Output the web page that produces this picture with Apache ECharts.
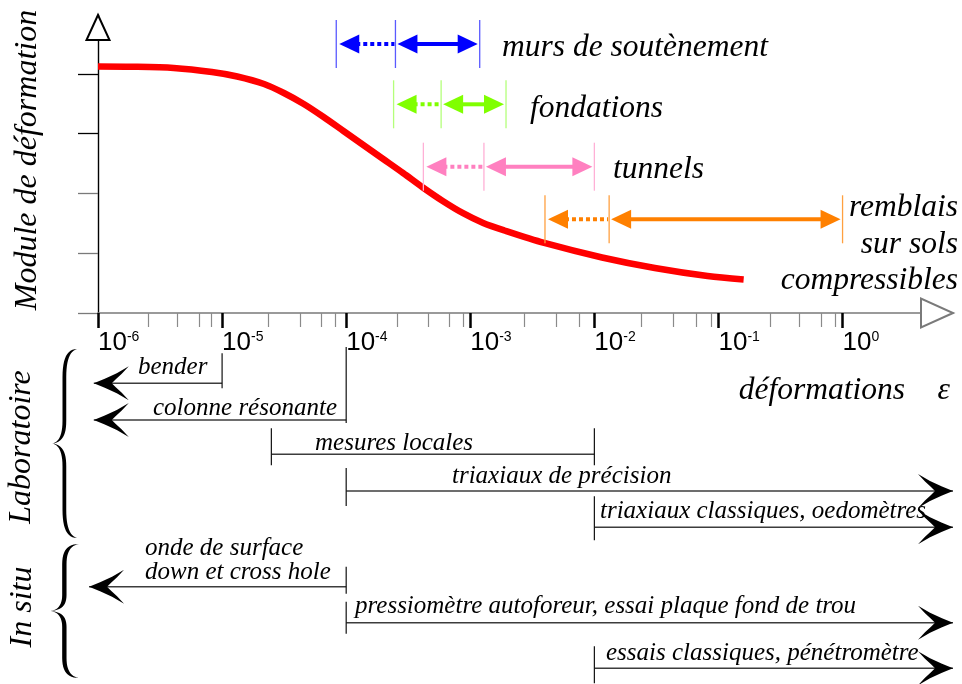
<!DOCTYPE html>
<html><head><meta charset="utf-8">
<script src="https://cdn.jsdelivr.net/npm/echarts@6/dist/echarts.min.js"></script>
<style>html,body{margin:0;padding:0;background:#fff}#c{width:962px;height:684px}</style>
</head><body><div id="c"></div>
<script>
// ---------------- DATA (x values are log10 of the strain ε) ----------------
const decadeTicks = [-6, -5, -4, -3, -2, -1, 0];
const minorTicks = [-5.592, -5.358, -5.187, -5.085, -4.627, -4.374, -4.20, -4.088,
  -3.59, -3.342, -3.168, -3.056, -2.563, -2.311, -2.119, -1.623, -1.368, -1.18, -1.058,
  -0.586, -0.347, -0.171, -0.061];
const moduleTicksDark = [3, 4];
const moduleTicksLight = [0, 1, 2];

// modulus curve
const curveX = [-6.0, -5.728, -5.390, -5.082, -4.878, -4.662, -4.502, -4.342, -4.182, -4.022,
  -3.862, -3.702, -3.542, -3.382, -3.222, -3.062, -2.896, -2.726, -2.404, -1.938, -1.513, -1.088, -0.797];
const curveY = [4.126, 4.122, 4.100, 4.033, 3.958, 3.833, 3.682, 3.498, 3.280, 3.046,
  2.811, 2.577, 2.343, 2.100, 1.874, 1.674, 1.506, 1.381, 1.172, 0.929, 0.753, 0.619, 0.561];

// ouvrages (strain ranges)
const workNames = ['murs de soutènement', 'fondations', 'tunnels', 'remblais sur sols compressibles'];
const workFrom = [-4.08, -3.618, -3.378, -2.398];
const workMid = [-3.603, -3.235, -2.89, -1.881];
const workTo = [-2.924, -2.712, -2.0, 0.0];

// essais (measuring ranges)
const testNames = ['bender', 'colonne résonante', 'mesures locales', 'triaxiaux de précision',
  'triaxiaux classiques, oedomètres', 'onde de surface / down et cross hole',
  'pressiomètre autoforeur, essai plaque fond de trou', 'essais classiques, pénétromètre'];
const testFrom = [-6.034, -6.034, -4.603, -4.0, -2.0, -6.072, -4.0, -2.0];
const testTo = [-5.0, -4.0, -2.0, 0.89, 0.89, -4.0, 0.89, 0.89];
const testFromEnd = ['arrow', 'arrow', 'bar', 'bar', 'bar', 'arrow', 'bar', 'bar'];
const testToEnd = ['bar', 'bar', 'bar', 'arrow', 'arrow', 'bar', 'arrow', 'arrow'];

// ---------------- LAYOUT / STYLE ----------------
const workRowY = [44, 104.3, 166.7, 219.3];
const workColors = ['#0000ff', '#80ff00', '#ff80c0', '#ff8000'];
const workTickColors = ['#5a5aff', '#b4ff7a', '#ffb0d6', '#ffa040'];
const testRowY = [383.3, 420, 454.3, 491, 527.3, 586.7, 622.7, 668.3];
const testTickUp = [30, 73, 26, 23, 31, 20, 21, 22];
const testTickDown = [5, 3, 11, 15, 13, 7, 11, 15];

const serifIt = { fontStyle: 'italic', fontFamily: 'Liberation Serif' };

function arrowHead(tx, ty, dir) { // dir 1 = right, -1 = left
  const p = [[0,0],[-11,-4.5],[-23,-10],[-35,-17],[-28,-9.5],[-22,-4],[-18,0],[-22,4],[-28,9.5],[-35,17],[-23,10],[-11,4.5]];
  return { type: 'polygon', shape: { points: p.map(q => [tx + dir * q[0], ty + q[1]]) }, style: { fill: '#000' } };
}
function triHead(tx, ty, dir, color) {
  const L = 20, H = 9.5;
  return { type: 'polygon', shape: { points: [[tx, ty], [tx - dir * L, ty - H], [tx - dir * L, ty + H]] }, style: { fill: color } };
}
// curly brace outline as polygon (normalized cubic segments)
function bracePoints(xEnd, top, bottom, xCusp) {
  const W = xEnd - xCusp, H = bottom - top;
  const a0 = 0.42, a1 = 0.57;
  const segs = [
    [[1,0],[0.6,0],[a0,0.05],[a0,0.15]],
    [[a0,0.15],[a0,0.23],[a0,0.3],[a0,0.38]],
    [[a0,0.38],[a0,0.46],[0.25,0.495],[0,0.5]],
    [[0,0.5],[0.25,0.505],[a0,0.54],[a0,0.62]],
    [[a0,0.62],[a0,0.7],[a0,0.78],[a0,0.85]],
    [[a0,0.85],[a0,0.95],[0.6,1],[1,1]],
    [[1,1],[0.7,0.988],[a1,0.94],[a1,0.85]],
    [[a1,0.85],[a1,0.78],[a1,0.7],[a1,0.62]],
    [[a1,0.62],[a1,0.545],[0.42,0.505],[0,0.5]],
    [[0,0.5],[0.42,0.495],[a1,0.455],[a1,0.38]],
    [[a1,0.38],[a1,0.3],[a1,0.23],[a1,0.15]],
    [[a1,0.15],[a1,0.06],[0.7,0.012],[1,0]]
  ];
  const pts = [];
  segs.forEach(s => {
    for (let k = 0; k < 12; k++) {
      const t = k / 12, a = (1 - t) * (1 - t) * (1 - t), b = 3 * t * (1 - t) * (1 - t), c = 3 * t * t * (1 - t), d = t * t * t;
      const u = a * s[0][0] + b * s[1][0] + c * s[2][0] + d * s[3][0];
      const v = a * s[0][1] + b * s[1][1] + c * s[2][1] + d * s[3][1];
      pts.push([xCusp + u * W, top + v * H]);
    }
  });
  return pts;
}
function txt(text, x, y, size, align, rot) {
  return { type: 'text', x: x, y: y, rotation: rot || 0, silent: true,
    style: Object.assign({ text: text, fontSize: size, fill: '#000', textAlign: align || 'left', textVerticalAlign: 'middle' }, serifIt) };
}

const chart = echarts.init(document.getElementById('c'), null, { renderer: 'canvas' });
const option = {
  animation: false,
  backgroundColor: '#fff',
  grid: { left: 98, right: 9, top: 15, bottom: 371, containLabel: false },
  xAxis: [{
    type: 'value', min: -6, max: 0.89, position: 'bottom',
    axisLine: { show: true, onZero: false, symbol: ['none', 'emptyTriangle'], symbolSize: [29, 32], symbolOffset: [0, -16],
      lineStyle: { color: '#7a7a7a', width: 1.5 } },
    axisTick: { show: true, customValues: decadeTicks, length: 15, lineStyle: { color: '#000', width: 2.5 } },
    axisLabel: {
      show: true, customValues: decadeTicks, align: 'left', verticalAlign: 'top', margin: 17,
      formatter: v => '{b|10}{s|' + v + '}',
      rich: {
        b: { fontSize: 26, lineHeight: 26, fontFamily: 'Liberation Sans', color: '#000' },
        s: { fontSize: 14, lineHeight: 14, fontFamily: 'Liberation Sans', color: '#000', verticalAlign: 'top' }
      }
    },
    splitLine: { show: false }
  }, {
    type: 'value', min: -6, max: 0.89, position: 'bottom',
    axisLine: { show: false, onZero: false },
    axisTick: { show: true, customValues: minorTicks, length: 14, lineStyle: { color: '#8a8a8a', width: 1.2 } },
    axisLabel: { show: false }, splitLine: { show: false }
  }],
  yAxis: [{
    type: 'value', min: 0, max: 4.987, position: 'left',
    axisLine: { show: true, onZero: false, symbol: ['none', 'emptyTriangle'], symbolSize: [23, 25], symbolOffset: [0, -12.5],
      lineStyle: { color: '#000', width: 1.4 } },
    axisTick: { show: true, customValues: moduleTicksDark, length: 20, lineStyle: { color: '#000', width: 1.3 } },
    axisLabel: { show: false }, splitLine: { show: false }
  }, {
    type: 'value', min: 0, max: 4.987, position: 'left',
    axisLine: { show: false, onZero: false },
    axisTick: { show: true, customValues: moduleTicksLight, length: 20, lineStyle: { color: '#7a7a7a', width: 1.3 } },
    axisLabel: { show: false }, splitLine: { show: false }
  }],
  series: [{
    type: 'line', xAxisIndex: 0, yAxisIndex: 0,
    data: curveX.map((x, i) => [x, curveY[i]]),
    smooth: 0.3, showSymbol: false, symbol: 'none', clip: false,
    lineStyle: { color: '#ff0000', width: 6.5, cap: 'butt', join: 'round' }, z: 5
  }, {
    type: 'custom', xAxisIndex: 0, yAxisIndex: 0, clip: false, silent: true, z: 6,
    data: workFrom.map((v, i) => [v, workMid[i], workTo[i]]),
    encode: { x: [0, 1, 2] },
    renderItem: function (params, api) {
      const i = params.dataIndex, y = workRowY[i], c = workColors[i], cl = workTickColors[i];
      const x0 = api.coord([api.value(0), 0])[0];
      const x1 = api.coord([api.value(1), 0])[0];
      const x2 = api.coord([api.value(2), 0])[0];
      const ch = [];
      [x0, x1, x2].forEach(x => ch.push({ type: 'line', shape: { x1: x, y1: y - 24, x2: x, y2: y + 24 }, style: { stroke: cl, lineWidth: 1.3 } }));
      ch.push({ type: 'line', shape: { x1: x0 + 20, y1: y, x2: x1 - 1, y2: y }, style: { stroke: c, lineWidth: 4, lineDash: [4, 3] } });
      ch.push(triHead(x0 + 3, y, -1, c));
      ch.push({ type: 'line', shape: { x1: x1 + 20, y1: y, x2: x2 - 20, y2: y }, style: { stroke: c, lineWidth: 4 } });
      ch.push(triHead(x1 + 2, y, -1, c));
      ch.push(triHead(x2 - 2, y, 1, c));
      return { type: 'group', children: ch };
    }
  }, {
    type: 'custom', xAxisIndex: 0, yAxisIndex: 0, clip: false, silent: true, z: 6,
    data: testFrom.map((v, i) => [v, testTo[i]]),
    encode: { x: [0, 1] },
    renderItem: function (params, api) {
      const i = params.dataIndex, y = testRowY[i];
      const xa = api.coord([api.value(0), 0])[0];
      const xb = api.coord([api.value(1), 0])[0];
      const ch = [{ type: 'line', shape: { x1: xa, y1: y, x2: xb, y2: y }, style: { stroke: '#3c3c3c', lineWidth: 1.5 } }];
      if (testFromEnd[i] === 'arrow') ch.push(arrowHead(xa, y, -1));
      else ch.push({ type: 'line', shape: { x1: xa, y1: y - testTickUp[i], x2: xa, y2: y + testTickDown[i] }, style: { stroke: '#111', lineWidth: 1.2 } });
      if (testToEnd[i] === 'arrow') ch.push(arrowHead(xb, y, 1));
      else ch.push({ type: 'line', shape: { x1: xb, y1: y - testTickUp[i], x2: xb, y2: y + testTickDown[i] }, style: { stroke: '#111', lineWidth: 1.2 } });
      return { type: 'group', children: ch };
    }
  }],
  graphic: [
    txt('Module de déformation', 28, 160, 32, 'center', Math.PI / 2),
    txt('Laboratoire', 22, 447, 32, 'center', Math.PI / 2),
    txt('In situ', 23, 607, 32, 'center', Math.PI / 2),
    { type: 'polygon', silent: true, shape: { points: bracePoints(77, 349, 538, 52) }, style: { fill: '#000' } },
    { type: 'polygon', silent: true, shape: { points: bracePoints(79, 544, 678, 50) }, style: { fill: '#000' } },
    txt('murs de soutènement', 502, 47.7, 31.5),
    txt('fondations', 530, 108.7, 31.5),
    txt('tunnels', 613, 170.1, 31.5),
    txt('remblais', 958, 207.7, 31.5, 'right'),
    txt('sur sols', 958, 244.4, 31.5, 'right'),
    txt('compressibles', 958, 281.1, 31.5, 'right'),
    txt('déformations', 905, 390.4, 31.5, 'right'),
    txt('ε', 950, 390.4, 31.5, 'right'),
    txt('bender', 138, 367.6, 25),
    txt('colonne résonante', 153, 408.3, 25),
    txt('mesures locales', 315, 443.9, 25),
    txt('triaxiaux de précision', 452, 476.6, 25),
    txt('triaxiaux classiques, oedomètres', 600, 511.6, 25),
    txt('onde de surface', 145, 548.3, 25),
    txt('down et cross hole', 145, 572.6, 25),
    txt('pressiomètre autoforeur, essai plaque fond de trou', 355, 606.6, 25),
    txt('essais classiques, pénétromètre', 606, 653.3, 25)
  ]
};
chart.setOption(option);
</script>
</body></html>
